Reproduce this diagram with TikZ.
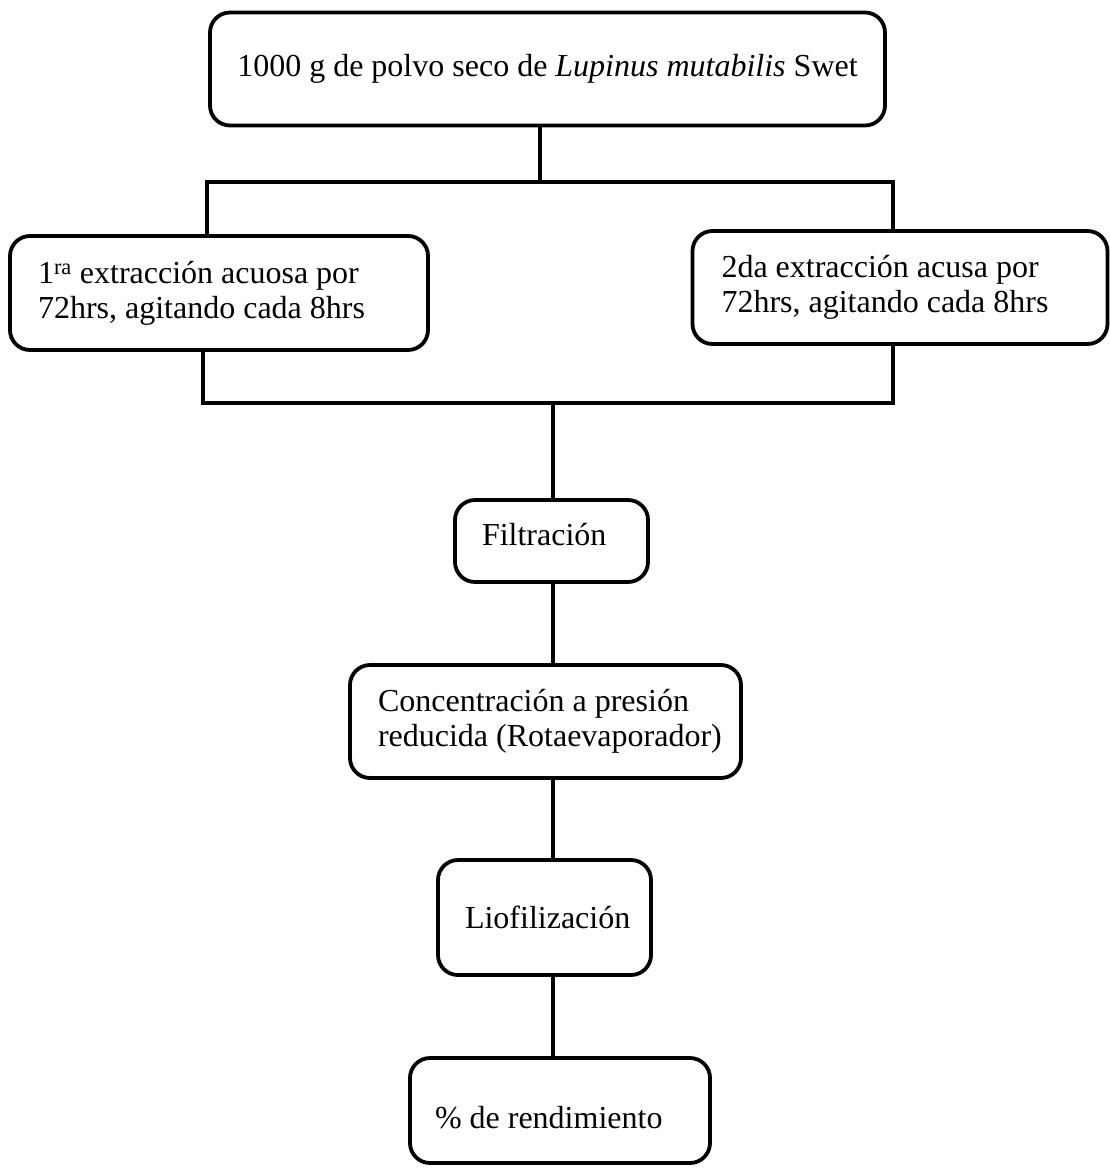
\documentclass[tikz,border=0pt]{standalone}
\usepackage{fontspec}
\setmainfont{Liberation Serif}

\begin{document}
\begin{tikzpicture}[x=1pt,y=-1pt,
		paso/.style={draw, line width=3.8pt, rounded corners=20pt, inner xsep=0pt, inner ysep=0pt, align=flush left, font=\fontsize{32}{35}\selectfont},
		linea/.style={line width=3.2pt}]
			\useasboundingbox (0,0) rectangle (1110,1168);

			\node (polvo) [paso, align=center, minimum width=675pt, minimum height=113pt] at (547.5,69) {1000 g de polvo seco de \textit{Lupinus mutabilis} Swet};
			\node (ext1) [paso, minimum width=418pt, minimum height=114pt, text width=362pt] at (219,293) {\mbox{1\textsuperscript{ra} extracción acuosa por}\\\mbox{72hrs, agitando cada 8hrs}};
			\node (ext2) [paso, minimum width=415pt, minimum height=113pt, text width=357pt] at (900,287.5) {\mbox{2da extracción acusa por}\\\mbox{72hrs, agitando cada 8hrs}};
			\node (filt) [paso, minimum width=193pt, minimum height=82pt, text width=139pt] at (551.5,541) {\raisebox{6pt}[\height][\depth]{Filtración}};
			\node (conc) [paso, minimum width=391pt, minimum height=113pt, text width=335pt] at (545.5,721.5) {\mbox{Concentración a presión}\\\mbox{reducida (Rotaevaporador)}};
			\node (liof) [paso, minimum width=213pt, minimum height=115pt, text width=159pt] at (544.5,917.5) {Liofilización};
			\node (rend) [paso, minimum width=300pt, minimum height=105pt, text width=250pt] at (560,1110.5) {\raisebox{-7pt}[\height][\depth]{\% de rendimiento}};

			\coordinate (ra) at (540,182);
			\coordinate (ra izq) at (207,182);
			\coordinate (ra der) at (893,182);
			\coordinate (un izq) at (203,403);
			\coordinate (un der) at (893,403);
			\coordinate (un) at (553,403);

			\draw[linea] (polvo.south -| ra) -- (ra);
			\draw[linea] (ext1.north -| ra izq) -- (ra izq) -- (ra der) -- (ext2.north -| ra der);
			\draw[linea] (ext1.south -| un izq) -- (un izq) -- (un der) -- (ext2.south -| un der);
			\draw[linea] (un) -- (filt.north -| un);
			\draw[linea] (filt.south -| un) -- (conc.north -| un);
			\draw[linea] (conc.south -| un) -- (liof.north -| un);
			\draw[linea] (liof.south -| un) -- (rend.north -| un);
		\end{tikzpicture}
\end{document}
